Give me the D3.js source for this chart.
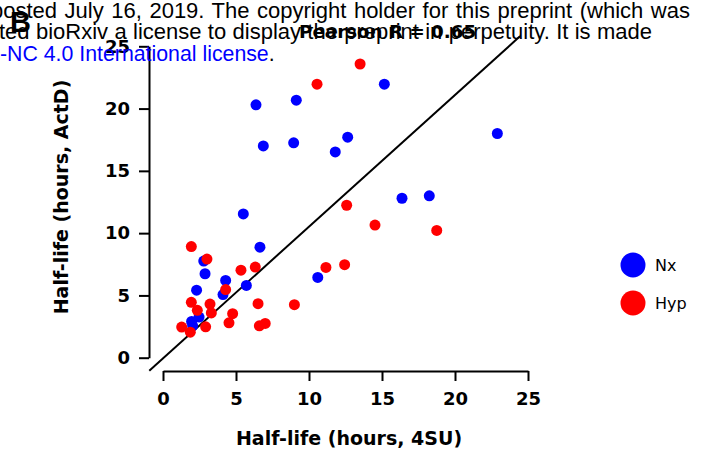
<!DOCTYPE html>
<html>
<head>
<meta charset="utf-8">
<script src="https://cdn.jsdelivr.net/npm/d3@7"></script>
<style>
  html, body { margin: 0; padding: 0; background: #fff; }
  svg { display: block; }
</style>
</head>
<body>
<svg id="chart" width="703" height="457"></svg>
<script>
// Half-life estimates: 4SU labelling (x) vs actinomycin D chase (y), hours
const nxX  = [6.37, 9.13, 6.87, 8.95, 11.8, 12.65, 5.5, 15.16, 22.9, 16.37, 18.24, 10.6, 6.64, 2.79, 2.88, 4.29, 4.11, 5.71, 2.3, 2.47, 1.96, 2.03];
const nxY  = [20.3, 20.67, 17.0, 17.25, 16.52, 17.7, 11.54, 21.96, 18.0, 12.8, 13.0, 6.44, 8.87, 7.76, 6.74, 6.2, 5.07, 5.8, 5.42, 3.26, 2.91, 2.56];
const hypX = [13.5, 10.55, 12.58, 14.52, 18.75, 11.16, 12.44, 9.0, 1.94, 3.01, 5.34, 6.32, 4.29, 1.94, 3.22, 2.35, 3.31, 4.77, 6.51, 1.28, 1.87, 2.92, 4.52, 6.6, 7.0];
const hypY = [23.58, 21.96, 12.24, 10.65, 10.22, 7.25, 7.47, 4.26, 8.92, 7.92, 7.03, 7.28, 5.47, 4.45, 4.31, 3.8, 3.59, 3.53, 4.34, 2.46, 2.05, 2.48, 2.8, 2.56, 2.75];
const tickValues = [0, 5, 10, 15, 20, 25];
const refLineX = [-0.94, 24.45];
const refLineY = [-1.05, 25.8];
const seriesNames = ["Nx", "Hyp"];
const seriesColors = ["#0000ff", "#ff0000"];

const svg = d3.select("#chart");
const x = d3.scaleLinear().domain([0, 25]).range([163, 528]);
const y = d3.scaleLinear().domain([0, 25]).range([357.7, 46.3]);
const tickFont = "'DejaVu Sans', Verdana, sans-serif";

// axes (offset from each other, ticks pointing outward)
const xAxis = svg.append("g")
  .attr("transform", "translate(0,371)")
  .call(d3.axisBottom(x).tickValues(tickValues).tickSize(10).tickPadding(11).tickSizeOuter(0));
const yAxis = svg.append("g")
  .attr("transform", "translate(149,0)")
  .call(d3.axisLeft(y).tickValues(tickValues).tickSize(10).tickPadding(9).tickSizeOuter(0));
[xAxis, yAxis].forEach(g => {
  g.select(".domain").attr("stroke", "#000").attr("stroke-width", 2);
  g.selectAll(".tick line").attr("stroke", "#000").attr("stroke-width", 2);
  g.selectAll(".tick text")
    .attr("fill", "#000")
    .style("font-family", tickFont)
    .style("font-weight", "bold")
    .style("font-size", "18px");
});

// reference line
svg.append("line")
  .attr("x1", x(refLineX[0])).attr("y1", y(refLineY[0]))
  .attr("x2", x(refLineX[1])).attr("y2", y(refLineY[1]))
  .attr("stroke", "#000").attr("stroke-width", 2);

// points
const nx = nxX.map((v, i) => ({ x: v, y: nxY[i], s: 0 }));
const hyp = hypX.map((v, i) => ({ x: v, y: hypY[i], s: 1 }));
svg.append("g").selectAll("circle")
  .data(nx.concat(hyp))
  .join("circle")
  .attr("cx", d => x(d.x))
  .attr("cy", d => y(d.y))
  .attr("r", 5.5)
  .attr("fill", d => seriesColors[d.s]);

// axis titles
svg.append("text")
  .attr("x", 349).attr("y", 444.5)
  .attr("text-anchor", "middle")
  .style("font-family", tickFont).style("font-weight", "bold").style("font-size", "19px")
  .text("Half-life (hours, 4SU)");
svg.append("text")
  .attr("transform", "translate(68,197) rotate(-90)")
  .attr("text-anchor", "middle")
  .style("font-family", tickFont).style("font-weight", "bold").style("font-size", "19px")
  .text("Half-life (hours, ActD)");

// title
svg.append("text")
  .attr("x", 299).attr("y", 38)
  .style("font-family", tickFont).style("font-weight", "bold").style("font-size", "18.3px")
  .text("Pearson R = 0.65");

// legend
const legend = svg.append("g");
seriesNames.forEach((name, i) => {
  legend.append("circle")
    .attr("cx", 633).attr("cy", 265 + i * 38).attr("r", 12.5)
    .attr("fill", seriesColors[i]);
  legend.append("text")
    .attr("x", 655).attr("y", 265 + i * 38).attr("dy", "0.36em")
    .style("font-family", tickFont).style("font-size", "16px")
    .text(name);
});

// panel letter
svg.append("text")
  .attr("x", 10).attr("y", 32)
  .style("font-family", "'Liberation Sans', Arial, sans-serif").style("font-weight", "bold").style("font-size", "29px")
  .text("B");

// preprint notice overlay (justified lines)
const noteFont = "'Liberation Sans', Arial, sans-serif";
const note = svg.append("g").style("font-family", noteFont).style("font-size", "22px");
function justified(str, x0, baseline, x1) {
  const t = note.append("text").attr("x", x0).attr("y", baseline).text(str);
  const len = t.node().getComputedTextLength();
  const gaps = (str.match(/ /g) || []).length;
  t.style("word-spacing", Math.max(0, (x1 - x0 - len) / gaps) + "px");
  return t;
}
justified("posted July 16, 2019. The copyright holder for this preprint (which was", -9, 17.5, 690);
justified("ted bioRxiv a license to display the preprint in perpetuity. It is made", -1, 39, 652);
const l3 = note.append("text").attr("x", 0).attr("y", 60.5).style("font-size", "21.3px");
l3.append("tspan").attr("fill", "#0000ff").text("-NC 4.0 International license");
l3.append("tspan").attr("fill", "#000").text(".");
</script>
</body>
</html>
